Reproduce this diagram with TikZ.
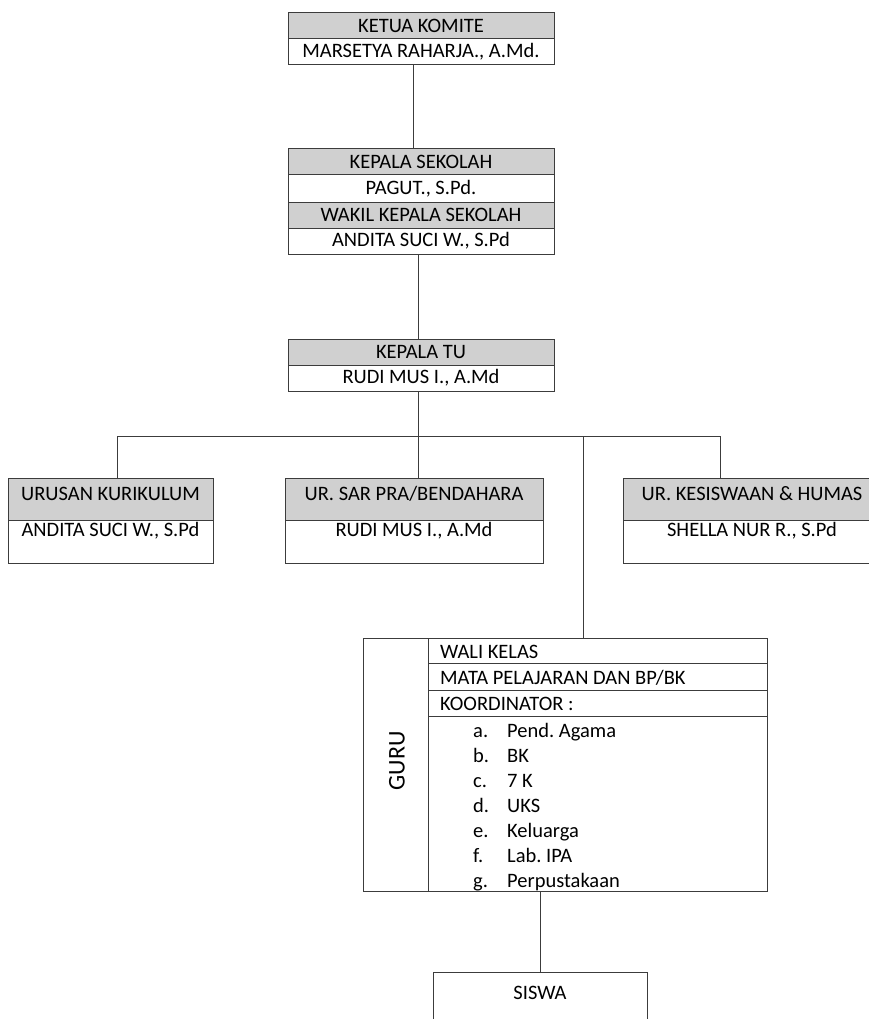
\documentclass[tikz,border=0pt]{standalone}
\usepackage{fontspec}
\setmainfont{Carlito}
\frenchspacing
\definecolor{hdrfill}{RGB}{208,208,208}
\definecolor{linec}{RGB}{60,60,60}
\tikzset{
  cell/.style={draw=linec, line width=1pt, inner sep=0pt, minimum height=26pt, font=\fontsize{20.5}{24}\selectfont},
  hcell/.style={cell, fill=hdrfill},
  blank/.style={draw=linec, line width=1pt, inner sep=0pt},
  lbl/.style={inner sep=0pt, font=\fontsize{20.5}{24}\selectfont},
  conn/.style={draw=linec, line width=1pt},
}
\begin{document}
\begin{tikzpicture}[x=1pt,y=-1pt]
\useasboundingbox (0,0) rectangle (869,1019);
\fill[white] (0,0) rectangle (869,1019);
\clip (0,0) rectangle (869,1019);
% Ketua komite
\node[hcell, minimum width=266pt] (k1) at (421,25.5) {KETUA KOMITE};
\node[cell, minimum width=266pt] (k2) at (421,51.5) {MARSETYA RAHARJA., A.Md.};
% Kepala sekolah
\node[hcell, minimum width=266pt] (s1) at (421,162) {KEPALA SEKOLAH};
\node[cell, minimum width=266pt, minimum height=27pt] (s2) at (421,188.5) {PAGUT., S.Pd.};
\node[hcell, minimum width=266pt] (s3) at (421,215) {WAKIL KEPALA SEKOLAH};
\node[cell, minimum width=266pt] (s4) at (421,241) {ANDITA SUCI W., S.Pd};
% Kepala TU
\node[hcell, minimum width=266pt] (t1) at (421,352) {KEPALA TU};
\node[cell, minimum width=266pt] (t2) at (421,378) {RUDI MUS I., A.Md};
% Lower boxes
\node[blank, fill=hdrfill, minimum width=205pt, minimum height=42pt] (a1) at (110.5,499) {};
\node[blank, minimum width=205pt, minimum height=43pt] (a2) at (110.5,541.5) {};
\node[lbl] (a1t) at (110.5,494) {URUSAN KURIKULUM};
\node[lbl] (a2t) at (110.5,531) {ANDITA SUCI W., S.Pd};
\node[blank, fill=hdrfill, minimum width=258pt, minimum height=42pt] (b1) at (414,499) {};
\node[blank, minimum width=258pt, minimum height=43pt] (b2) at (414,541.5) {};
\node[lbl] (b1t) at (414,494) {UR. SAR PRA/BENDAHARA};
\node[lbl] (b2t) at (414,531) {RUDI MUS I., A.Md};
\node[blank, fill=hdrfill, minimum width=258pt, minimum height=42pt] (c1) at (752,499) {};
\node[blank, minimum width=258pt, minimum height=43pt] (c2) at (752,541.5) {};
\node[lbl] (c1t) at (752,494) {UR. KESISWAAN \& HUMAS};
\node[lbl] (c2t) at (752,531) {SHELLA NUR R., S.Pd};
% GURU box
\node[blank, minimum width=65pt, minimum height=253pt] (g0) at (395.5,764.5) {};
\node[blank, minimum width=339pt, minimum height=25pt] (g1) at (597.5,650.5) {};
\node[blank, minimum width=339pt, minimum height=27pt] (g2) at (597.5,676.5) {};
\node[blank, minimum width=339pt, minimum height=26pt] (g3) at (597.5,703) {};
\node[blank, minimum width=339pt, minimum height=175pt] (g4) at (597.5,803.5) {};
\node[lbl, rotate=90, font=\fontsize{24}{27}\selectfont] (gt) at (397,761) {GURU};
\node[lbl, anchor=west] (g1t) at (440,652) {WALI KELAS};
\node[lbl, anchor=west] (g2t) at (440,678) {MATA PELAJARAN DAN BP/BK};
\node[lbl, anchor=west] (g3t) at (440,704) {KOORDINATOR :};
\foreach \i/\l/\t [count=\n from 0] in {a/a./Pend. Agama, b/b./BK, c/c./7 K, d/d./UKS, e/e./Keluarga, f/f./Lab. IPA, g/g./Perpustakaan}{
  \node[lbl, anchor=base west] (l\i) at (473,737+25*\n) {\l};
  \node[lbl, anchor=base west] (x\i) at (507,737+25*\n) {\t};
}
% SISWA
\node[blank, minimum width=214pt, minimum height=80pt] (sw) at (540,1012) {};
\node[lbl] (swt) at (540,993) {SISWA};
% connectors
\coordinate (hl) at (117,436);
\coordinate (hr) at (720,436);
\coordinate (tu) at ([xshift=-3pt]t2.south);
\draw[conn] ([xshift=-8pt]k2.south) -- ([xshift=-8pt]s1.north);
\draw[conn] ([xshift=-3pt]s4.south) -- ([xshift=-3pt]t1.north);
\draw[conn] (tu) -- (tu |- b1.north);
\draw[conn] (hl) -- (hr);
\draw[conn] (hl) -- (hl |- a1.north);
\draw[conn] (hr) -- (hr |- c1.north);
\draw[conn] (583,436) -- (583,0 |- g1.north);
\draw[conn] (sw.north) -- (sw.north |- g4.south);
\end{tikzpicture}
\end{document}
